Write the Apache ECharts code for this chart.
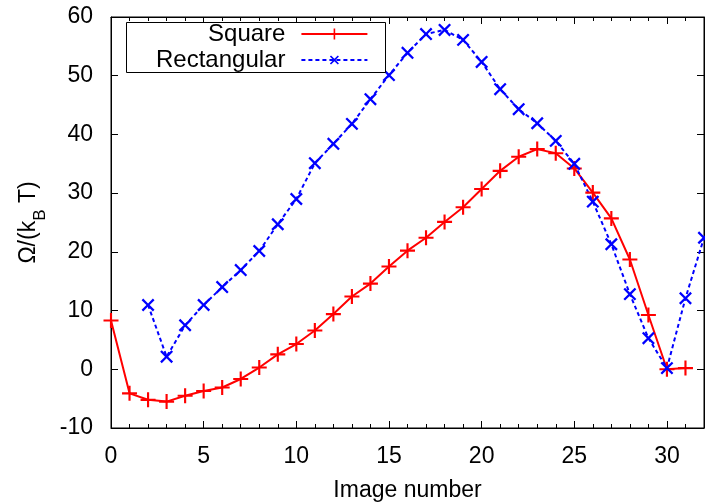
<!DOCTYPE html>
<html><head><meta charset="utf-8">
<script src="https://cdn.jsdelivr.net/npm/echarts@6/dist/echarts.min.js"></script>
<style>html,body{margin:0;padding:0;background:#fff}#c{width:705px;height:504px}</style>
</head><body><div id="c"></div>
<script>
const squareX = [0,1,2,3,4,5,6,7,8,9,10,11,12,13,14,15,16,17,18,19,20,21,22,23,24,25,26,27,28,29,30,31];
const squareY = [8.3,-4.1,-5.2,-5.5,-4.5,-3.7,-3.1,-1.65,0.3,2.55,4.3,6.6,9.4,12.4,14.6,17.5,20.2,22.4,25.1,27.6,30.7,33.8,36.2,37.5,36.8,34.2,30.1,25.7,18.7,9.25,0,0.2];
const rectX = [2,3,4,5,6,7,8,9,10,11,12,13,14,15,16,17,18,19,20,21,22,23,24,25,26,27,28,29,30,31,32];
const rectY = [10.95,2.15,7.5,10.95,14.0,16.9,20.15,24.7,29.0,35.1,38.4,41.8,46.0,50.1,53.9,57.1,57.8,56.1,52.35,47.7,44.3,41.9,38.9,35.0,28.55,21.3,12.8,5.3,0.2,12.1,22.4];
const xTickLabels = ['0','5','10','15','20','25','30'];
const yTickLabels = ['-10','0','10','20','30','40','50','60'];

const font = 'Liberation Sans, Arial, Helvetica, sans-serif';
const fs = 23;
const plus = 'path://M-1,-7H1V-1H7V1H1V7H-1V1H-7V-1H-1Z';
const chart = echarts.init(document.getElementById('c'));
const tickCommon = {show:true, inside:true, length:7, lineStyle:{color:'#000', width:1}};
const minorCommon = {show:true, splitNumber:5, length:4, lineStyle:{color:'#000', width:1}};
chart.setOption({
  animation:false,
  grid:{left:111, right:1, top:17, bottom:76, show:true, borderColor:'#000', borderWidth:1,
    containLabel:false, outerBoundsMode:'none'},
  graphic:[{type:'rect', left:126, top:22, z:10, silent:true,
    shape:{width:259, height:50}, style:{fill:'#fff', stroke:'#000', lineWidth:1}}],
  legend:{
    left:156, top:22, orient:'vertical', align:'right', z:20,
    borderWidth:0, padding:0, itemGap:2,
    itemWidth:66, itemHeight:14,
    textStyle:{fontFamily:font, fontSize:24, color:'#000', lineHeight:24, padding:[0,11,0,0]},
    data:['Square','Rectangular']
  },
  xAxis:[{
    type:'value', min:0, max:32, interval:5,
    name:'Image number', nameLocation:'middle', nameGap:51,
    nameTextStyle:{fontFamily:font, fontSize:fs, color:'#000'},
    axisLine:{show:true, onZero:false, lineStyle:{color:'#000', width:1}},
    axisTick:tickCommon, minorTick:minorCommon,
    axisLabel:{fontFamily:font, fontSize:fs, color:'#000', margin:17,
      formatter:v => xTickLabels.includes(String(v)) ? String(v) : ''},
    splitLine:{show:false}
  },{
    type:'value', min:0, max:32, interval:5, position:'top',
    axisLine:{show:true, onZero:false, lineStyle:{color:'#000'}},
    axisTick:tickCommon, minorTick:minorCommon,
    axisLabel:{show:false}, splitLine:{show:false}
  }],
  yAxis:[{
    type:'value', min:-10, max:60, interval:10,
    name:'{a|Ω/(k}{b|B}{a| T)}', nameLocation:'middle', nameGap:68, nameRotate:90,
    nameTextStyle:{fontFamily:font, fontSize:fs, color:'#000',
      rich:{a:{fontFamily:font, fontSize:fs, color:'#000'}, b:{fontFamily:font, fontSize:17, color:'#000', verticalAlign:'bottom', padding:[0,0,-9,0]}}},
    axisLine:{show:true, onZero:false, lineStyle:{color:'#000', width:1}},
    axisTick:tickCommon,
    axisLabel:{fontFamily:font, fontSize:fs, color:'#000', margin:18,
      formatter:v => yTickLabels.includes(String(v)) ? String(v) : ''},
    splitLine:{show:false}
  },{
    type:'value', min:-10, max:60, interval:10, position:'right',
    axisLine:{show:true, onZero:false, lineStyle:{color:'#000'}},
    axisTick:tickCommon, axisLabel:{show:false}, splitLine:{show:false}
  }],
  series:[{
    name:'Square', type:'line',
    data:squareX.map((x,i)=>[x, squareY[i]]),
    symbol:plus, symbolSize:15,
    lineStyle:{color:'#ff0000', width:2},
    itemStyle:{color:'#ff0000'},
    clip:false
  },{
    name:'Rectangular', type:'line',
    data:rectX.map((x,i)=>[x, rectY[i]]),
    symbol:plus, symbolSize:16, symbolRotate:45,
    lineStyle:{color:'#0000ff', width:2, type:[4,3]},
    itemStyle:{color:'#0000ff'},
    clip:false
  }]
});
</script></body></html>
